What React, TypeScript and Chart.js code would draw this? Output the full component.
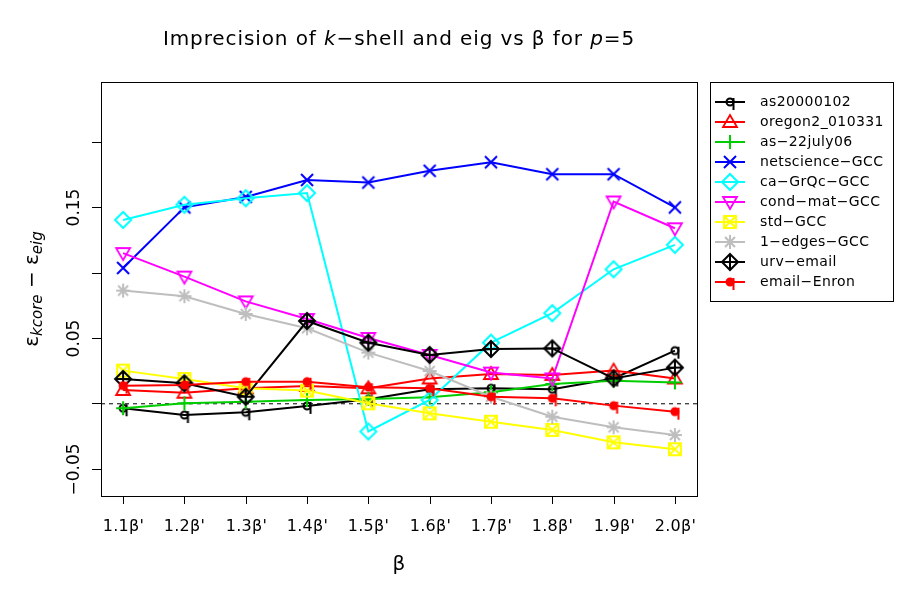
import React, { useEffect, useRef } from 'react';
import { Chart, registerables } from 'chart.js';

Chart.register(...registerables);

// ---------- data ----------
const categories = ["1.1β'", "1.2β'", "1.3β'", "1.4β'", "1.5β'", "1.6β'", "1.7β'", "1.8β'", "1.9β'", "2.0β'"];

const seriesNames = [
  'as20000102', 'oregon2_010331', 'as−22july06', 'netscience−GCC', 'ca−GrQc−GCC',
  'cond−mat−GCC', 'std−GCC', '1−edges−GCC', 'urv−email', 'email−Enron',
];

const as20000102 = [-0.0038, -0.009, -0.0069, -0.002, 0.003, 0.0107, 0.0115, 0.0107, 0.019, 0.0403];
const oregon2_010331 = [0.0102, 0.0081, 0.0115, 0.0133, 0.0115, 0.019, 0.0224, 0.0217, 0.025, 0.019];
const as22july06 = [-0.0038, 0.0, 0.0012, 0.0025, 0.0033, 0.0046, 0.0084, 0.0148, 0.0173, 0.016];
const netscienceGCC = [0.1036, 0.150, 0.158, 0.171, 0.169, 0.178, 0.1846, 0.1754, 0.1754, 0.150];
const caGrQcGCC = [0.1404, 0.152, 0.157, 0.161, -0.0216, 0.0025, 0.0464, 0.069, 0.1026, 0.1213];
const condMatGCC = [0.115, 0.097, 0.078, 0.0645, 0.050, 0.037, 0.0235, 0.019, 0.1545, 0.134];
const stdGCC = [0.025, 0.0186, 0.0115, 0.0097, 0.0, -0.0077, -0.0141, -0.0204, -0.0299, -0.0352];
const edges1GCC = [0.0863, 0.082, 0.0684, 0.0574, 0.0388, 0.0247, 0.005, -0.0103, -0.0184, -0.0243];
const urvEmail = [0.0186, 0.0153, 0.005, 0.063, 0.0464, 0.037, 0.0416, 0.042, 0.019, 0.0273];
const emailEnron = [0.0135, 0.014, 0.0165, 0.0165, 0.0123, 0.0115, 0.005, 0.0038, -0.0018, -0.0064];

const seriesValues = [
  as20000102, oregon2_010331, as22july06, netscienceGCC, caGrQcGCC,
  condMatGCC, stdGCC, edges1GCC, urvEmail, emailEnron,
];

const seriesColors = ['#000000', '#FF0000', '#00CD00', '#0000FF', '#00FFFF', '#FF00FF', '#FFFF00', '#BEBEBE', '#000000', '#FF0000'];
const seriesMarkers = ['q', 'triUp', 'plus', 'cross', 'diamond', 'triDown', 'boxX', 'star', 'diamondPlus', 'qFilled'];

const yTickValues = [-0.05, 0, 0.05, 0.1, 0.15, 0.2];
const yTickLabels = ['−0.05', '', '0.05', '', '0.15', ''];

// ---------- markers ----------
function drawMarker(ctx: CanvasRenderingContext2D, kind: string, color: string, cx: number, cy: number) {
  ctx.save();
  ctx.strokeStyle = color;
  ctx.fillStyle = color;
  ctx.lineWidth = 2;
  ctx.lineJoin = 'miter';
  ctx.beginPath();
  switch (kind) {
    case 'q':
    case 'qFilled': {
      ctx.arc(cx, cy, 3.5, 0, Math.PI * 2);
      if (kind === 'qFilled') ctx.fill();
      ctx.stroke();
      ctx.beginPath();
      ctx.moveTo(cx + 3.5, cy - 4);
      ctx.lineTo(cx + 3.5, cy + 8);
      ctx.stroke();
      break;
    }
    case 'triUp': {
      ctx.lineWidth = 1.8;
      ctx.moveTo(cx, cy - 7);
      ctx.lineTo(cx + 7, cy + 5);
      ctx.lineTo(cx - 7, cy + 5);
      ctx.closePath();
      ctx.stroke();
      break;
    }
    case 'triDown': {
      ctx.lineWidth = 1.8;
      ctx.moveTo(cx, cy + 7);
      ctx.lineTo(cx + 7, cy - 5);
      ctx.lineTo(cx - 7, cy - 5);
      ctx.closePath();
      ctx.stroke();
      break;
    }
    case 'plus': {
      ctx.moveTo(cx - 7, cy);
      ctx.lineTo(cx + 7, cy);
      ctx.moveTo(cx, cy - 7);
      ctx.lineTo(cx, cy + 7);
      ctx.stroke();
      break;
    }
    case 'cross': {
      ctx.moveTo(cx - 6, cy - 6);
      ctx.lineTo(cx + 6, cy + 6);
      ctx.moveTo(cx + 6, cy - 6);
      ctx.lineTo(cx - 6, cy + 6);
      ctx.stroke();
      break;
    }
    case 'diamond': {
      ctx.moveTo(cx, cy - 8);
      ctx.lineTo(cx + 8, cy);
      ctx.lineTo(cx, cy + 8);
      ctx.lineTo(cx - 8, cy);
      ctx.closePath();
      ctx.stroke();
      break;
    }
    case 'diamondPlus': {
      ctx.moveTo(cx, cy - 8);
      ctx.lineTo(cx + 8, cy);
      ctx.lineTo(cx, cy + 8);
      ctx.lineTo(cx - 8, cy);
      ctx.closePath();
      ctx.moveTo(cx - 8, cy);
      ctx.lineTo(cx + 8, cy);
      ctx.moveTo(cx, cy - 8);
      ctx.lineTo(cx, cy + 8);
      ctx.stroke();
      break;
    }
    case 'boxX': {
      ctx.rect(cx - 6, cy - 6, 12, 12);
      ctx.moveTo(cx - 6, cy - 6);
      ctx.lineTo(cx + 6, cy + 6);
      ctx.moveTo(cx + 6, cy - 6);
      ctx.lineTo(cx - 6, cy + 6);
      ctx.stroke();
      break;
    }
    case 'star': {
      ctx.moveTo(cx - 7, cy);
      ctx.lineTo(cx + 7, cy);
      ctx.moveTo(cx, cy - 7);
      ctx.lineTo(cx, cy + 7);
      ctx.moveTo(cx - 5, cy - 5);
      ctx.lineTo(cx + 5, cy + 5);
      ctx.moveTo(cx + 5, cy - 5);
      ctx.lineTo(cx - 5, cy + 5);
      ctx.stroke();
      break;
    }
  }
  ctx.restore();
}

function makeMarkerCanvas(kind: string, color: string): HTMLCanvasElement {
  const c = document.createElement('canvas');
  c.width = 24;
  c.height = 24;
  const ctx = c.getContext('2d')!;
  drawMarker(ctx, kind, color, 12, 12);
  return c;
}

type Part = { t: string; italic?: boolean; size: number; dy?: number };

function setSpacing(ctx: CanvasRenderingContext2D, px: number) {
  (ctx as any).letterSpacing = `${px}px`;
}

function richWidth(ctx: CanvasRenderingContext2D, parts: Part[]) {
  let w = 0;
  for (const p of parts) {
    ctx.font = `${p.italic ? 'italic ' : ''}${p.size}px "DejaVu Sans"`;
    w += ctx.measureText(p.t).width;
  }
  return w;
}

function drawRich(ctx: CanvasRenderingContext2D, parts: Part[], x: number, y: number) {
  const w = richWidth(ctx, parts);
  let cx = x - w / 2;
  ctx.textAlign = 'left';
  ctx.textBaseline = 'middle';
  for (const p of parts) {
    ctx.font = `${p.italic ? 'italic ' : ''}${p.size}px "DejaVu Sans"`;
    ctx.fillText(p.t, cx, y + (p.dy || 0));
    cx += ctx.measureText(p.t).width;
  }
}

const decorPlugin = {
  id: 'decor',
  beforeDraw(chart: any) {
    const ctx = chart.ctx as CanvasRenderingContext2D;
    ctx.save();
    ctx.fillStyle = '#ffffff';
    ctx.fillRect(0, 0, chart.width, chart.height);
    ctx.restore();
  },
  beforeDatasetsDraw(chart: any) {
    const ctx = chart.ctx as CanvasRenderingContext2D;
    const { left, right } = chart.chartArea;
    const y0 = chart.scales.y.getPixelForValue(0);
    ctx.save();
    ctx.strokeStyle = '#000';
    ctx.lineWidth = 1;
    ctx.setLineDash([4, 4]);
    ctx.beginPath();
    ctx.moveTo(left, y0 + 0.5);
    ctx.lineTo(right, y0 + 0.5);
    ctx.stroke();
    ctx.restore();
  },
  afterDraw(chart: any) {
    const ctx = chart.ctx as CanvasRenderingContext2D;
    const { left, right, top, bottom } = chart.chartArea;
    const xs = chart.scales.x;
    const ys = chart.scales.y;
    ctx.save();
    ctx.strokeStyle = '#000';
    ctx.fillStyle = '#000';
    ctx.lineWidth = 1;
    ctx.setLineDash([]);
    // box
    ctx.strokeRect(left + 0.5, top + 0.5, right - left, bottom - top);
    // x ticks
    ctx.font = '16px "DejaVu Sans"';
    setSpacing(ctx, 0.3);
    ctx.textAlign = 'center';
    ctx.textBaseline = 'middle';
    categories.forEach((lab, i) => {
      const px = Math.round(xs.getPixelForValue(i)) + 0.5;
      ctx.beginPath();
      ctx.moveTo(px, bottom);
      ctx.lineTo(px, bottom + 8);
      ctx.stroke();
      ctx.fillText(lab, px, 527);
    });
    setSpacing(ctx, 0);
    // y ticks
    yTickValues.forEach((v, i) => {
      const py = Math.round(ys.getPixelForValue(v)) + 0.5;
      ctx.beginPath();
      ctx.moveTo(left - 9, py);
      ctx.lineTo(left, py);
      ctx.stroke();
      if (yTickLabels[i]) {
        ctx.save();
        ctx.translate(75, py);
        ctx.rotate(-Math.PI / 2);
        ctx.font = '17px "DejaVu Sans"';
        ctx.textAlign = 'center';
        ctx.textBaseline = 'middle';
        ctx.fillText(yTickLabels[i], 0, 0);
        ctx.restore();
      }
    });
    // title
    setSpacing(ctx, 0.9);
    drawRich(ctx, [
      { t: 'Imprecision of ', size: 20 },
      { t: 'k', size: 20, italic: true },
      { t: '−shell and eig vs β for ', size: 20 },
      { t: 'p', size: 20, italic: true },
      { t: '=5', size: 20 },
    ], (left + right) / 2, 40);
    setSpacing(ctx, 0);
    // x title
    ctx.font = '20px "DejaVu Sans"';
    ctx.textAlign = 'center';
    ctx.textBaseline = 'middle';
    ctx.fillText('β', (left + right) / 2, 565);
    // y title
    ctx.save();
    ctx.translate(33, (top + bottom) / 2);
    ctx.rotate(-Math.PI / 2);
    drawRich(ctx, [
      { t: 'ε', size: 20 },
      { t: 'kcore', size: 15, italic: true, dy: 5 },
      { t: ' − ', size: 20 },
      { t: 'ε', size: 20 },
      { t: 'eig', size: 15, italic: true, dy: 5 },
    ], 0, 0);
    ctx.restore();
    // legend
    ctx.strokeRect(710.5, 82.5, 183, 219);
    seriesNames.forEach((name, i) => {
      const ly = 102 + i * 20;
      ctx.save();
      ctx.strokeStyle = seriesColors[i];
      ctx.lineWidth = 2;
      ctx.beginPath();
      ctx.moveTo(715, ly);
      ctx.lineTo(745, ly);
      ctx.stroke();
      ctx.restore();
      drawMarker(ctx, seriesMarkers[i], seriesColors[i], 730, ly);
      ctx.fillStyle = '#000';
      ctx.font = '14px "DejaVu Sans"';
      setSpacing(ctx, 0.4);
      ctx.textAlign = 'left';
      ctx.textBaseline = 'middle';
      ctx.fillText(name, 760, ly);
      setSpacing(ctx, 0);
    });
    ctx.restore();
  },
};

export default function App() {
  const ref = useRef<HTMLCanvasElement | null>(null);
  useEffect(() => {
    document.body.style.margin = '0';
    const canvas = ref.current!;
    const datasets = seriesNames.map((name, i) => ({
      label: name,
      data: seriesValues[i].map((v, j) => ({ x: j, y: v })),
      borderColor: seriesColors[i],
      backgroundColor: seriesColors[i],
      borderWidth: 2,
      pointStyle: makeMarkerCanvas(seriesMarkers[i], seriesColors[i]) as any,
      pointRadius: 8,
      fill: false,
      tension: 0,
      order: seriesNames.length - i,
    }));
    const chart = new Chart(canvas, {
      type: 'line',
      data: { datasets },
      options: {
        responsive: false,
        animation: false,
        devicePixelRatio: 1,
        layout: { padding: { left: 101, top: 82, right: 202, bottom: 103 } },
        scales: {
          x: { type: 'linear', min: -0.36, max: 9.36, display: false },
          y: { type: 'linear', min: -0.071, max: 0.246, display: false },
        },
        plugins: {
          legend: { display: false },
          title: { display: false },
          tooltip: { enabled: false },
        },
        events: [],
      },
      plugins: [decorPlugin],
    });
    return () => chart.destroy();
  }, []);
  return (
    <canvas ref={ref} width={899} height={599} style={{ display: 'block', width: 899, height: 599 }} />
  );
}
